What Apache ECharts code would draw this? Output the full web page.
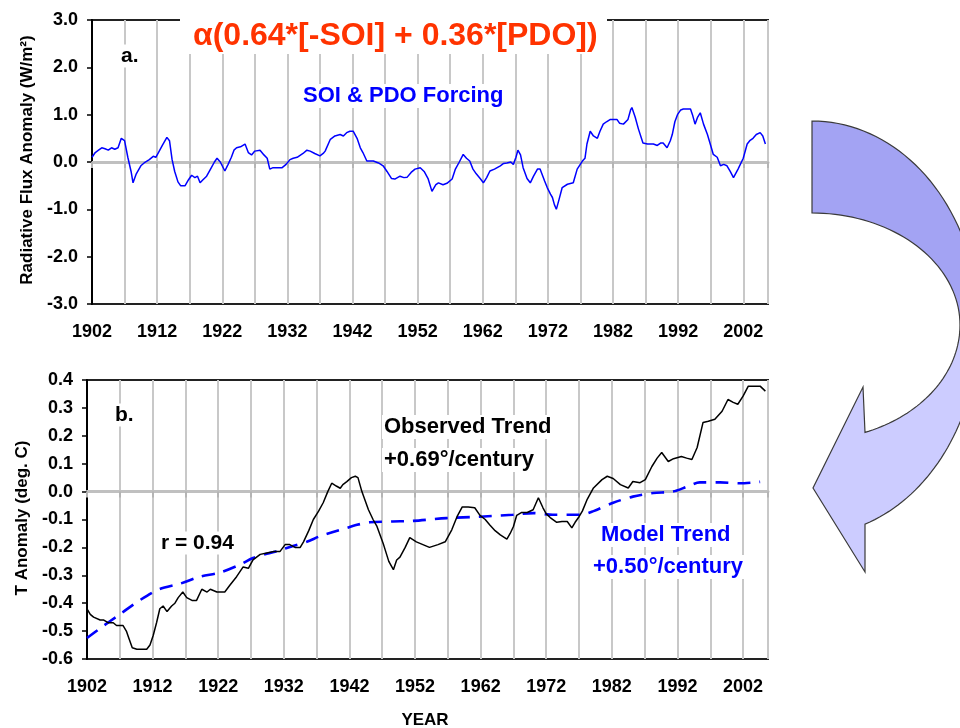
<!DOCTYPE html>
<html>
<head>
<meta charset="utf-8">
<script src="https://cdn.jsdelivr.net/npm/echarts@6/dist/echarts.min.js"></script>
<style>html,body{margin:0;padding:0;background:#fff}#c{width:960px;height:728px}</style>
</head>
<body>
<div id="c"></div>
<script>
// ---------------- DATA ----------------
var BASE_YEAR = 1902;
var xTickYears = [1902, 1912, 1922, 1932, 1942, 1952, 1962, 1972, 1982, 1992, 2002];

// (a) SOI & PDO forcing (W/m2)
var forcingYears = [1902.0,1902.5,1903.0,1903.5,1904.0,1904.5,1905.0,1905.5,1906.0,1906.5,1907.0,1907.5,1908.0,1908.3,1908.8,1909.5,1910.0,1910.8,1911.4,1911.8,1912.2,1912.8,1913.5,1913.9,1914.3,1914.7,1915.2,1915.6,1916.3,1916.8,1917.3,1917.8,1918.2,1918.6,1919.0,1919.6,1920.2,1920.8,1921.2,1921.7,1922.4,1922.9,1923.4,1923.8,1924.2,1924.8,1925.5,1926.0,1926.5,1927.0,1927.8,1928.4,1928.9,1929.3,1929.8,1930.5,1931.2,1931.8,1932.4,1932.9,1933.5,1934.4,1935.0,1935.5,1936.2,1937.0,1937.5,1937.8,1938.6,1939.3,1940.1,1940.6,1941.1,1941.6,1942.1,1942.7,1943.2,1943.6,1944.2,1945.2,1946.0,1946.7,1947.3,1948.0,1948.5,1949.3,1949.9,1950.4,1951.0,1951.6,1952.4,1953.0,1953.6,1954.2,1954.8,1955.2,1955.9,1956.5,1957.3,1957.8,1958.4,1959.0,1959.5,1960.0,1960.5,1961.0,1961.6,1962.1,1962.6,1963.1,1963.8,1964.7,1965.2,1965.7,1966.3,1966.7,1967.1,1967.4,1967.8,1968.2,1968.8,1969.3,1969.8,1970.4,1970.8,1971.1,1971.5,1971.9,1972.4,1972.7,1973.0,1973.3,1973.7,1974.2,1975.0,1975.9,1976.5,1977.3,1977.7,1978.0,1978.5,1979.0,1979.6,1980.0,1980.5,1981.0,1981.6,1982.6,1983.0,1983.6,1984.3,1984.7,1984.9,1985.4,1985.9,1986.6,1987.3,1988.2,1988.8,1989.3,1989.7,1990.3,1990.8,1991.1,1991.5,1991.9,1992.4,1992.8,1993.9,1994.2,1994.6,1995.0,1995.4,1995.9,1996.5,1997.0,1997.4,1998.0,1998.5,1999.0,1999.5,2000.0,2000.5,2001.2,2002.0,2002.6,2003.0,2003.5,2004.0,2004.6,2005.0,2005.4];
var forcingValues = [0.10,0.20,0.25,0.30,0.28,0.25,0.30,0.27,0.30,0.50,0.45,0.10,-0.20,-0.44,-0.25,-0.08,-0.02,0.05,0.12,0.10,0.20,0.35,0.52,0.45,0.05,-0.20,-0.42,-0.50,-0.50,-0.38,-0.28,-0.33,-0.30,-0.44,-0.38,-0.30,-0.15,0.00,0.08,0.00,-0.19,-0.05,0.10,0.25,0.30,0.32,0.38,0.20,0.15,0.23,0.25,0.15,0.08,-0.15,-0.12,-0.12,-0.12,-0.05,0.05,0.08,0.10,0.18,0.25,0.23,0.18,0.13,0.18,0.23,0.48,0.55,0.58,0.55,0.62,0.65,0.65,0.50,0.30,0.20,0.02,0.02,-0.02,-0.08,-0.20,-0.35,-0.36,-0.30,-0.33,-0.32,-0.22,-0.15,-0.12,-0.20,-0.35,-0.62,-0.48,-0.44,-0.48,-0.45,-0.36,-0.15,0.00,0.16,0.08,0.02,-0.15,-0.25,-0.35,-0.44,-0.33,-0.19,-0.15,-0.08,-0.03,-0.02,0.00,-0.05,0.10,0.25,0.15,-0.12,-0.35,-0.44,-0.30,-0.15,-0.15,-0.19,-0.40,-0.54,-0.68,-0.75,-0.90,-1.00,-0.80,-0.54,-0.47,-0.44,-0.15,0.02,0.08,0.38,0.65,0.55,0.50,0.65,0.80,0.85,0.90,0.90,0.82,0.80,0.90,1.10,1.15,0.95,0.70,0.40,0.38,0.38,0.35,0.40,0.40,0.30,0.45,0.58,0.85,1.00,1.10,1.12,1.12,1.00,0.80,0.95,1.04,0.80,0.58,0.35,0.16,0.10,-0.08,-0.05,-0.08,-0.20,-0.33,-0.15,0.08,0.38,0.45,0.50,0.58,0.62,0.55,0.38];

// (b) Observed temperature anomaly (deg C)
var obsYears = [1902.0,1902.5,1903.0,1904.0,1904.5,1905.2,1906.0,1906.5,1907.5,1908.0,1908.3,1908.9,1909.6,1911.1,1911.6,1912.1,1912.6,1913.1,1913.6,1914.2,1914.9,1915.4,1915.9,1916.6,1917.2,1918.0,1918.7,1919.5,1920.3,1920.8,1921.8,1923.0,1923.8,1924.8,1925.8,1926.6,1927.3,1928.4,1929.4,1930.5,1931.4,1932.2,1932.9,1933.7,1934.5,1935.0,1935.8,1936.5,1937.3,1938.0,1938.7,1939.3,1940.0,1940.6,1941.0,1941.6,1942.3,1942.9,1943.3,1943.9,1944.9,1945.6,1946.2,1947.2,1948.0,1948.7,1949.2,1949.7,1950.5,1951.2,1952.2,1953.2,1954.2,1955.5,1956.6,1957.6,1958.4,1959.2,1960.1,1961.1,1961.9,1962.7,1963.4,1964.2,1965.0,1966.0,1966.5,1967.0,1967.5,1968.2,1969.1,1970.0,1970.8,1971.5,1972.0,1972.6,1973.6,1974.4,1975.2,1975.9,1976.4,1977.0,1977.5,1978.2,1979.2,1980.5,1981.3,1982.2,1983.3,1984.5,1985.2,1986.3,1987.1,1988.1,1988.9,1989.6,1990.6,1991.4,1992.6,1993.4,1994.2,1995.0,1995.9,1996.7,1997.7,1998.8,1999.7,2000.5,2001.2,2002.0,2002.8,2004.6,2005.4];
var obsValues = [-0.42,-0.44,-0.45,-0.46,-0.46,-0.47,-0.47,-0.48,-0.48,-0.50,-0.52,-0.56,-0.565,-0.565,-0.55,-0.515,-0.47,-0.42,-0.41,-0.43,-0.41,-0.40,-0.38,-0.36,-0.38,-0.39,-0.39,-0.35,-0.36,-0.35,-0.36,-0.36,-0.335,-0.305,-0.27,-0.275,-0.245,-0.225,-0.22,-0.215,-0.215,-0.19,-0.19,-0.20,-0.20,-0.18,-0.14,-0.10,-0.07,-0.04,0.00,0.03,0.02,0.012,0.025,0.036,0.05,0.055,0.05,0.0,-0.065,-0.10,-0.125,-0.19,-0.25,-0.28,-0.245,-0.235,-0.20,-0.165,-0.18,-0.19,-0.20,-0.19,-0.18,-0.137,-0.09,-0.055,-0.055,-0.058,-0.085,-0.10,-0.12,-0.14,-0.155,-0.17,-0.15,-0.125,-0.085,-0.075,-0.075,-0.065,-0.022,-0.058,-0.08,-0.093,-0.11,-0.107,-0.107,-0.13,-0.11,-0.09,-0.07,-0.03,0.013,0.043,0.055,0.047,0.025,0.013,0.036,0.032,0.043,0.09,0.12,0.14,0.108,0.118,0.126,0.12,0.115,0.158,0.248,0.252,0.259,0.288,0.33,0.32,0.313,0.342,0.378,0.378,0.36];

// (b) Model trend (deg C)
var modelYears = [1902.0,1904.0,1907.0,1910.0,1913.0,1916.2,1919.2,1922.3,1925.3,1927.3,1929.4,1931.4,1933.4,1935.5,1937.5,1939.5,1941.6,1943.0,1945.1,1948.6,1951.7,1956.8,1961.9,1966.9,1970.0,1973.0,1977.2,1979.2,1982.2,1985.2,1988.3,1991.3,1993.5,1995.4,1998.5,2001.5,2004.6];
var modelValues = [-0.525,-0.49,-0.44,-0.39,-0.35,-0.33,-0.305,-0.29,-0.262,-0.238,-0.223,-0.21,-0.195,-0.18,-0.16,-0.145,-0.13,-0.12,-0.11,-0.107,-0.105,-0.095,-0.09,-0.083,-0.077,-0.083,-0.083,-0.07,-0.04,-0.018,-0.005,0.0,0.018,0.033,0.033,0.03,0.035];

var topYTicks = [-3, -2, -1, 0, 1, 2, 3];
var botYTicks = [-0.6, -0.5, -0.4, -0.3, -0.2, -0.1, 0.0, 0.1, 0.2, 0.3, 0.4];

// ---------------- BUILD ----------------
var FONT = "'Liberation Sans', Arial, Helvetica, sans-serif";
function pairs(xs, ys) { return xs.map(function (x, i) { return [x - BASE_YEAR, ys[i]]; }); }
var X_MAX = 103.8;

function xLabelFmt(v) {
  var r = Math.round(v);
  if (Math.abs(v - r) > 1e-6) return '';
  var y = BASE_YEAR + r;
  return xTickYears.indexOf(y) >= 0 ? String(y) : '';
}

function mainX(gi) {
  return {
    type: 'value', gridIndex: gi, min: 0, max: X_MAX, interval: 5, position: 'bottom',
    axisLine: { show: false, onZero: false },
    axisTick: { show: false },
    axisLabel: { show: true, formatter: xLabelFmt, fontSize: 18, fontWeight: 'bold', color: '#000', fontFamily: FONT, margin: 19, showMinLabel: true, showMaxLabel: false, hideOverlap: false },
    splitLine: { show: true, lineStyle: { color: '#c8c8c8', width: 2 } }
  };
}
function zeroX(gi) {
  return {
    type: 'value', gridIndex: gi, min: 0, max: X_MAX, interval: 5, position: 'top',
    axisLine: { show: true, onZero: true, lineStyle: { color: '#c0c0c0', width: 3 } },
    axisTick: { show: true, inside: true, length: 6, lineStyle: { color: '#b4b4b4', width: 2 } },
    axisLabel: { show: false },
    splitLine: { show: false }
  };
}
function mainY(gi, min, max, interval) {
  return {
    type: 'value', gridIndex: gi, min: min, max: max, interval: interval,
    axisLine: { show: true, onZero: false, lineStyle: { color: '#000', width: 2 } },
    axisTick: { show: true, inside: false, length: 5, lineStyle: { color: '#000', width: 1.5 } },
    axisLabel: { formatter: function (v) { return (Math.abs(v) < 1e-9 ? 0 : v).toFixed(1); }, fontSize: 18, fontWeight: 'bold', color: '#000', fontFamily: FONT, margin: 14 },
    splitLine: { show: false }
  };
}

// curved arrow outline
var CX = 812, CY = 325;
function ell(rx, ry, t, up) { return [CX + rx * Math.sin(t), CY + (up ? -ry : ry) * Math.cos(t)]; }
var N = 40, i, t;
var darkPts = [];
for (i = 0; i <= N; i++) { t = (Math.PI / 2) * i / N; darkPts.push(ell(167, 204, t, true)); }
for (i = N; i >= 0; i--) { t = (Math.PI / 2) * i / N; darkPts.push(ell(148, 112, t, true)); }
var lightPts = [];
var tInEnd = Math.asin(53 / 148), tOutEnd = Math.asin(53 / 167);
for (i = 0; i <= N; i++) { t = Math.PI / 2 - (Math.PI / 2 - tInEnd) * i / N; lightPts.push(ell(148, 115, t, false)); }
var headPts = [[863, 387], [813, 488], [865, 572], [865, 525]];
lightPts = lightPts.concat(headPts);
for (i = 0; i <= N; i++) { t = tOutEnd + (Math.PI / 2 - tOutEnd) * i / N; lightPts.push(ell(167, 210, t, false)); }
var outline = [];
for (i = 0; i <= N; i++) { t = (Math.PI / 2) * i / N; outline.push(ell(167, 204, t, true)); }
for (i = N; i >= 0; i--) { t = tOutEnd + (Math.PI / 2 - tOutEnd) * i / N; outline.push(ell(167, 210, t, false)); }
outline = outline.concat(headPts.slice().reverse());
for (i = N; i >= 0; i--) { t = Math.PI / 2 - (Math.PI / 2 - tInEnd) * i / N; outline.push(ell(148, 115, t, false)); }
for (i = 0; i <= N; i++) { t = (Math.PI / 2) * i / N; outline.push(ell(148, 112, Math.PI / 2 - t, true)); }

function txt(x, y, s, size, color, extra) {
  var o = {
    type: 'text', z: 50,
    style: { x: x, y: y, text: s, font: 'bold ' + size + 'px ' + FONT, fill: color, textAlign: 'left', textVerticalAlign: 'middle', backgroundColor: '#fff', padding: [1, 2] }
  };
  if (extra) for (var k in extra) o.style[k] = extra[k];
  return o;
}

var option = {
  animation: false,
  backgroundColor: '#fff',
  textStyle: { fontFamily: FONT },
  grid: [
    { left: 92, top: 20, width: 676, height: 284, show: true, borderColor: '#222', borderWidth: 2, backgroundColor: 'transparent', containLabel: false },
    { left: 87, top: 380, width: 681, height: 279, show: true, borderColor: '#222', borderWidth: 2, backgroundColor: 'transparent', containLabel: false }
  ],
  xAxis: [mainX(0), zeroX(0), mainX(1), zeroX(1)],
  yAxis: [mainY(0, topYTicks[0], topYTicks[topYTicks.length - 1], 1), mainY(1, botYTicks[0], botYTicks[botYTicks.length - 1], 0.1)],
  series: [
    { type: 'line', xAxisIndex: 0, yAxisIndex: 0, data: pairs(forcingYears, forcingValues), showSymbol: false, lineStyle: { color: '#0000ff', width: 1.5 }, z: 5 },
    { type: 'line', xAxisIndex: 2, yAxisIndex: 1, data: pairs(modelYears, modelValues), showSymbol: false, smooth: 0.3, lineStyle: { color: '#0000ff', width: 2.6, type: [13, 9] }, z: 4 },
    { type: 'line', xAxisIndex: 2, yAxisIndex: 1, data: pairs(obsYears, obsValues), showSymbol: false, lineStyle: { color: '#000', width: 1.5 }, z: 5 }
  ],
  graphic: [
    { type: 'rect', z: 40, shape: { x: 180, y: 8, width: 427, height: 46 }, style: { fill: '#fff' } },
    txt(191, 36, 'α(0.64*[-SOI] + 0.36*[PDO])', 32, '#ff3300', { backgroundColor: 'transparent' }),
    txt(119, 56, 'a.', 21, '#000'),
    txt(301, 96, 'SOI & PDO Forcing', 22, '#0000ff'),
    txt(113, 415, 'b.', 21, '#000'),
    txt(382, 427, 'Observed Trend', 22, '#000'),
    txt(382, 460, '+0.69°/century', 22, '#000'),
    txt(159, 543, 'r = 0.94', 21, '#000'),
    txt(599, 535, 'Model Trend', 22, '#0000ff'),
    txt(591, 567, '+0.50°/century', 22, '#0000ff'),
    { type: 'text', z: 50, style: { x: 425, y: 720, text: 'YEAR', font: 'bold 17px ' + FONT, fill: '#000', textAlign: 'center', textVerticalAlign: 'middle' } },
    { type: 'text', z: 50, x: 27, y: 160, rotation: Math.PI / 2, style: { x: 0, y: 0, text: 'Radiative Flux Anomaly (W/m²)', font: 'bold 17px ' + FONT, fill: '#000', textAlign: 'center', textVerticalAlign: 'middle' } },
    { type: 'text', z: 50, x: 22, y: 518, rotation: Math.PI / 2, style: { x: 0, y: 0, text: 'T Anomaly (deg. C)', font: 'bold 17px ' + FONT, fill: '#000', textAlign: 'center', textVerticalAlign: 'middle' } },
    { type: 'polygon', z: 30, shape: { points: darkPts }, style: { fill: '#a3a3f3', stroke: null } },
    { type: 'polygon', z: 30, shape: { points: lightPts }, style: { fill: '#ccccff', stroke: null } },
    { type: 'polygon', z: 31, shape: { points: outline }, style: { fill: null, stroke: '#3a3a3a', lineWidth: 1.2 } }
  ]
};

var chart = echarts.init(document.getElementById('c'), null, { renderer: 'canvas' });
chart.setOption(option);
</script>
</body>
</html>
